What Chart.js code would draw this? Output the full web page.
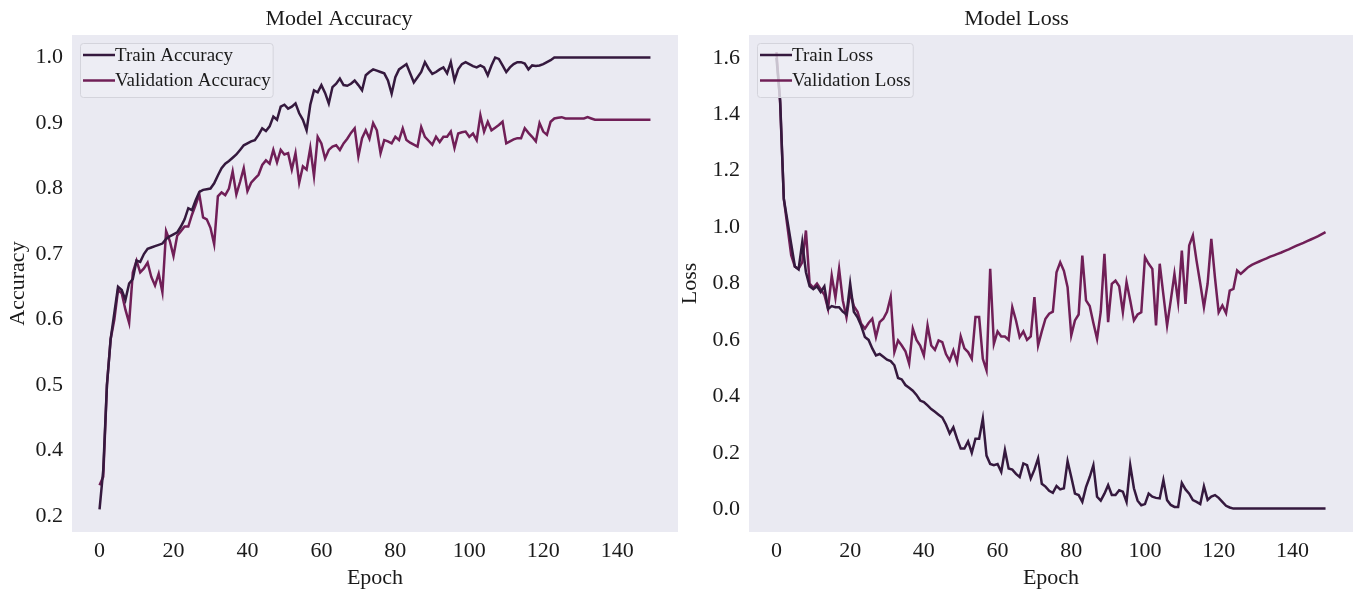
<!DOCTYPE html>
<html lang="en">

<head>
  <meta charset="UTF-8">
  <title>Model Accuracy and Loss</title>
  <style>
    body {
      margin: 0;
      background: #fff;
    }

    .panel {
      position: absolute;
      top: 0;
      height: 592px;
    }

    #left {
      left: 0;
      width: 680px;
    }

    #right {
      left: 680px;
      width: 676px;
    }
  </style>
  <script src="https://cdn.jsdelivr.net/npm/chart.js@4.4.4/dist/chart.umd.js"></script>
</head>

<body>
  <div class="panel" id="left"><canvas id="chart_acc"></canvas></div>
  <div class="panel" id="right"><canvas id="chart_loss"></canvas></div>
</body>
<script>
  // epochs 0..149
  const epochs = Array.from({ length: 150 }, (_, i) => i);

  const trainAccuracy = [
    0.31, 0.37, 0.50, 0.57, 0.61, 0.65, 0.645, 0.63, 0.655, 0.662,
    0.69, 0.688, 0.70, 0.708, 0.71, 0.712, 0.714, 0.716, 0.723, 0.727,
    0.73, 0.733, 0.742, 0.753, 0.77, 0.767, 0.782, 0.795, 0.798, 0.799,
    0.80, 0.808, 0.82, 0.831, 0.838, 0.842, 0.847, 0.852, 0.859, 0.866,
    0.869, 0.872, 0.874, 0.882, 0.892, 0.888, 0.895, 0.91, 0.905, 0.925,
    0.928, 0.922, 0.925, 0.93, 0.915, 0.905, 0.889, 0.928, 0.95, 0.947,
    0.958, 0.946, 0.93, 0.955, 0.96, 0.968, 0.958, 0.957, 0.96, 0.965,
    0.958, 0.95, 0.973, 0.978, 0.982, 0.98, 0.978, 0.976, 0.965, 0.945,
    0.97, 0.982, 0.986, 0.99, 0.976, 0.962, 0.97, 0.978, 0.993, 0.983,
    0.975, 0.978, 0.982, 0.985, 0.976, 0.993, 0.965, 0.982, 0.99, 0.993,
    0.99, 0.987, 0.985, 0.988, 0.985, 0.973, 0.988, 1.0, 0.998, 0.988,
    0.978, 0.985, 0.99, 0.993, 0.993, 0.991, 0.982, 0.988, 0.987, 0.988,
    0.99, 0.993, 0.996, 1.0, 1.0, 1.0, 1.0, 1.0, 1.0, 1.0,
    1.0, 1.0, 1.0, 1.0, 1.0, 1.0, 1.0, 1.0, 1.0, 1.0,
    1.0, 1.0, 1.0, 1.0, 1.0, 1.0, 1.0, 1.0, 1.0, 1.0
  ];

  const valAccuracy = [
    0.347, 0.36, 0.50, 0.57, 0.60, 0.645, 0.64, 0.615, 0.595, 0.672,
    0.69, 0.672, 0.678, 0.687, 0.665, 0.652, 0.67, 0.642, 0.735, 0.72,
    0.697, 0.728, 0.735, 0.742, 0.742, 0.76, 0.775, 0.791, 0.756, 0.753,
    0.74, 0.715, 0.788, 0.794, 0.79, 0.80, 0.826, 0.791, 0.81, 0.831,
    0.796, 0.809, 0.815, 0.821, 0.836, 0.843, 0.838, 0.859, 0.84, 0.859,
    0.852, 0.854, 0.829, 0.854, 0.809, 0.834, 0.829, 0.862, 0.819, 0.879,
    0.869, 0.846, 0.859, 0.864, 0.866, 0.859, 0.869, 0.876, 0.885, 0.892,
    0.849, 0.877, 0.889, 0.876, 0.90, 0.889, 0.854, 0.874, 0.872, 0.869,
    0.879, 0.874, 0.892, 0.874, 0.87, 0.867, 0.864, 0.894, 0.879, 0.873,
    0.867, 0.879, 0.871, 0.879, 0.879, 0.887, 0.862, 0.884, 0.886, 0.887,
    0.879, 0.884, 0.874, 0.912, 0.887, 0.902, 0.889, 0.893, 0.897, 0.902,
    0.869, 0.872, 0.875, 0.877, 0.877, 0.892, 0.885, 0.879, 0.872, 0.90,
    0.887, 0.882, 0.902, 0.907, 0.908, 0.909, 0.907, 0.907, 0.907, 0.907,
    0.907, 0.907, 0.909, 0.907, 0.905, 0.905, 0.905, 0.905, 0.905, 0.905,
    0.905, 0.905, 0.905, 0.905, 0.905, 0.905, 0.905, 0.905, 0.905, 0.905
  ];

  const trainLoss = [
    1.60, 1.45, 1.10, 1.02, 0.94, 0.86, 0.85, 0.946, 0.84, 0.79,
    0.78, 0.79, 0.77, 0.79, 0.71, 0.72, 0.716, 0.716, 0.70, 0.69,
    0.80, 0.70, 0.68, 0.65, 0.61, 0.60, 0.57, 0.545, 0.55, 0.54,
    0.53, 0.525, 0.51, 0.465, 0.46, 0.44, 0.43, 0.42, 0.405, 0.385,
    0.38, 0.368, 0.355, 0.345, 0.335, 0.325, 0.30, 0.268, 0.29, 0.25,
    0.215, 0.215, 0.24, 0.20, 0.25, 0.25, 0.321, 0.19, 0.16, 0.156,
    0.16, 0.132, 0.209, 0.144, 0.14, 0.125, 0.114, 0.162, 0.156, 0.109,
    0.14, 0.18, 0.09, 0.08, 0.065, 0.058, 0.082, 0.07, 0.074, 0.17,
    0.114, 0.055, 0.05, 0.026, 0.078, 0.114, 0.156, 0.044, 0.03, 0.055,
    0.085, 0.05, 0.05, 0.067, 0.062, 0.026, 0.156, 0.074, 0.03, 0.014,
    0.018, 0.055, 0.044, 0.04, 0.038, 0.103, 0.032, 0.015, 0.008, 0.008,
    0.093, 0.07, 0.055, 0.032, 0.026, 0.018, 0.081, 0.033, 0.045, 0.05,
    0.04, 0.026, 0.012, 0.006, 0.002, 0.002, 0.002, 0.002, 0.002, 0.002,
    0.002, 0.002, 0.002, 0.002, 0.002, 0.002, 0.002, 0.002, 0.002, 0.002,
    0.002, 0.002, 0.002, 0.002, 0.002, 0.002, 0.002, 0.002, 0.002, 0.002
  ];

  const valLoss = [
    1.62, 1.44, 1.10, 1.00, 0.90, 0.86, 0.852, 0.875, 0.988, 0.80,
    0.785, 0.80, 0.78, 0.76, 0.71, 0.828, 0.75, 0.852, 0.74, 0.68,
    0.77, 0.72, 0.70, 0.657, 0.64, 0.66, 0.675, 0.61, 0.663, 0.675,
    0.70, 0.752, 0.557, 0.598, 0.58, 0.56, 0.516, 0.64, 0.60, 0.58,
    0.545, 0.651, 0.58, 0.565, 0.598, 0.592, 0.55, 0.527, 0.563, 0.521,
    0.612, 0.57, 0.557, 0.533, 0.681, 0.681, 0.533, 0.492, 0.852, 0.586,
    0.63, 0.612, 0.612, 0.60, 0.716, 0.669, 0.61, 0.63, 0.60, 0.612,
    0.752, 0.58, 0.63, 0.675, 0.693, 0.70, 0.84, 0.875, 0.845, 0.787,
    0.616, 0.669, 0.69, 0.899, 0.74, 0.72, 0.66, 0.604, 0.70, 0.905,
    0.663, 0.799, 0.81, 0.79, 0.698, 0.805, 0.74, 0.669, 0.69, 0.698,
    0.893, 0.87, 0.852, 0.651, 0.87, 0.76, 0.651, 0.74, 0.834, 0.734,
    0.917, 0.728, 0.935, 0.97, 0.88, 0.80, 0.716, 0.80, 0.958, 0.82,
    0.698, 0.722, 0.695, 0.775, 0.781, 0.846, 0.834, 0.846, 0.858, 0.866,
    0.872, 0.878, 0.884, 0.889, 0.895, 0.90, 0.905, 0.91, 0.916, 0.921,
    0.927, 0.933, 0.939, 0.944, 0.95, 0.956, 0.962, 0.968, 0.975, 0.982
  ];

  const epochTicks = [0, 20, 40, 60, 80, 100, 120, 140];
  const accTickValues = [0.3, 0.4, 0.5, 0.6, 0.7, 0.8, 0.9, 1.0];
  const accTickLabels = ['0.2', '0.4', '0.5', '0.6', '0.7', '0.8', '0.9', '1.0'];
  const lossTickValues = [0.0, 0.2, 0.4, 0.6, 0.8, 1.0, 1.2, 1.4, 1.6];
  const lossTickLabels = ['0.0', '0.2', '0.4', '0.6', '0.8', '1.0', '1.2', '1.4', '1.6'];

  const TRAIN_COLOR = '#35193e';
  const VAL_COLOR = '#701f57';
  const FONT = '"Liberation Serif", "Times New Roman", serif';
  const TEXT = '#1a1a1a';

  Chart.defaults.font.family = FONT;
  Chart.defaults.color = TEXT;

  const plotBackground = {
    id: 'plotBackground',
    beforeDraw(chart) {
      const { ctx, chartArea: a } = chart;
      ctx.save();
      ctx.fillStyle = '#eaeaf2';
      ctx.fillRect(a.left, a.top, a.right - a.left, a.bottom - a.top);
      ctx.restore();
    }
  };

  // legend in the upper left corner of the plot, like matplotlib's
  const insideLegend = {
    id: 'insideLegend',
    afterDatasetsDraw(chart) {
      const { ctx, chartArea } = chart;
      const sets = chart.data.datasets;
      ctx.save();
      ctx.font = '19px ' + FONT;
      const textW = Math.max(...sets.map(d => ctx.measureText(d.label).width));
      const x = chartArea.left + 8, y = chartArea.top + 8;
      const w = 35 + textW + 2, h = 54;
      ctx.fillStyle = 'rgba(238, 238, 244, 0.8)';
      ctx.strokeStyle = '#d4d4dc';
      ctx.lineWidth = 1;
      ctx.beginPath();
      if (ctx.roundRect) ctx.roundRect(x + 0.5, y + 0.5, w, h, 3);
      else ctx.rect(x + 0.5, y + 0.5, w, h);
      ctx.fill();
      ctx.stroke();
      sets.forEach((d, i) => {
        const ly = y + 12 + i * 25.5;
        ctx.strokeStyle = d.borderColor;
        ctx.lineWidth = 2.5;
        ctx.beginPath();
        ctx.moveTo(x + 3, ly);
        ctx.lineTo(x + 35, ly);
        ctx.stroke();
        ctx.fillStyle = TEXT;
        ctx.textBaseline = 'middle';
        ctx.fillText(d.label, x + 35, ly + 1);
      });
      ctx.restore();
    }
  };

  function series(values) {
    return values.map((v, i) => ({ x: epochs[i], y: v }));
  }

  function makeChart(id, opts) {
    new Chart(id, {
      type: 'line',
      data: {
        datasets: [{
          label: opts.trainLabel,
          data: series(opts.train),
          borderColor: TRAIN_COLOR,
        },
        {
          label: opts.valLabel,
          data: series(opts.val),
          borderColor: VAL_COLOR,
        }]
      },
      options: {
        responsive: true,
        maintainAspectRatio: false,
        animation: false,
        elements: {
          point: { radius: 0 },
          line: { borderWidth: 2.5, tension: 0 }
        },
        layout: { padding: opts.padding },
        plugins: {
          legend: { display: false },
          tooltip: { enabled: false },
          title: {
            display: true,
            text: opts.title,
            font: { size: 22, weight: 'normal', lineHeight: 1.2 },
            color: TEXT,
            padding: { top: 6, bottom: 2.6 }
          }
        },
        scales: {
          x: {
            type: 'linear',
            min: -7.45,
            max: 156.45,
            grid: { display: false, drawTicks: false },
            border: { display: false },
            ticks: { padding: 6, font: { size: 22 } },
            afterBuildTicks: s => { s.ticks = epochTicks.map(v => ({ value: v })); },
            afterFit: s => { s.height = 60; },
            title: {
              display: true,
              text: 'Epoch',
              font: { size: 22, lineHeight: 1.2 },
              padding: { top: 0, bottom: 1 }
            }
          },
          y: {
            min: opts.yMin,
            max: opts.yMax,
            grid: { display: false, drawTicks: false },
            border: { display: false },
            ticks: {
              padding: 9,
              font: { size: 22 },
              callback: v => {
                const i = opts.tickValues.findIndex(t => Math.abs(t - v) < 1e-6);
                return i >= 0 ? opts.tickLabels[i] : '';
              }
            },
            afterBuildTicks: s => { s.ticks = opts.tickValues.map(v => ({ value: v })); },
            afterFit: s => { s.width = opts.yWidth; },
            title: {
              display: true,
              text: opts.yTitle,
              font: { size: 22, lineHeight: 1.2 },
              padding: { top: opts.yTitlePad, bottom: 0 }
            }
          }
        }
      },
      plugins: [plotBackground, insideLegend]
    });
  }

  makeChart('chart_acc', {
    title: 'Model Accuracy',
    yTitle: 'Accuracy',
    trainLabel: 'Train Accuracy',
    valLabel: 'Validation Accuracy',
    train: trainAccuracy,
    val: valAccuracy,
    yMin: 0.2755,
    yMax: 1.0345,
    tickValues: accTickValues,
    tickLabels: accTickLabels,
    yWidth: 72,
    yTitlePad: 5,
    padding: { left: 0, right: 2, top: 0, bottom: 0 }
  });

  makeChart('chart_loss', {
    title: 'Model Loss',
    yTitle: 'Loss',
    trainLabel: 'Train Loss',
    valLabel: 'Validation Loss',
    train: trainLoss,
    val: valLoss,
    yMin: -0.081,
    yMax: 1.681,
    tickValues: lossTickValues,
    tickLabels: lossTickLabels,
    yWidth: 69,
    yTitlePad: -3,
    padding: { left: 0, right: 3, top: 0, bottom: 0 }
  });
</script>

</html>
